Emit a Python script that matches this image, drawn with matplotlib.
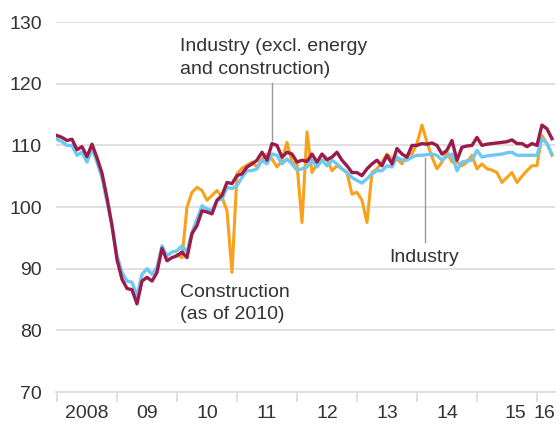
import matplotlib
matplotlib.use("Agg")
import matplotlib.pyplot as plt
import numpy as np

plt.rcParams["font.family"] = ["Liberation Sans", "DejaVu Sans"]

# Monthly values, Jan 2008 .. Apr 2016 (index 2010 = 100)
industry_excl = [
    111.6, 111.3, 110.8, 111.0, 109.3, 109.8, 108.2, 110.2, 108.0, 105.5,
    101.5, 97.0, 91.5, 88.3, 86.8, 86.6, 84.3, 88.0, 88.6, 88.0,
    89.4, 93.3, 91.3, 91.8, 92.1, 92.7, 91.8, 95.7, 97.0, 99.4,
    99.2, 98.9, 101.1, 101.9, 104.0, 103.8, 105.1, 105.4, 106.5, 107.0,
    107.6, 108.9, 107.6, 110.3, 110.0, 108.1, 108.9, 108.6, 107.3, 107.6,
    107.4, 108.6, 107.3, 108.6, 107.7, 108.1, 108.9, 107.6, 106.7, 105.6,
    105.6, 105.1, 106.2, 107.0, 107.6, 106.7, 108.4, 107.0, 109.5, 108.6,
    108.1, 110.0, 110.0, 110.3, 110.2, 110.4, 110.0, 108.6, 109.2, 110.8,
    107.6, 109.7, 109.9, 110.0, 111.3, 110.0, 110.2, 110.3, 110.4, 110.5,
    110.6, 110.9, 110.3, 110.3, 109.8, 110.3, 110.0, 113.3, 112.7, 111.1,
]
industry = [
    111.0, 110.6, 110.0, 110.0, 108.4, 108.9, 107.3, 109.5, 107.3, 104.8,
    100.8, 97.0, 92.1, 89.4, 88.0, 87.8, 85.6, 89.1, 90.0, 89.1,
    90.2, 93.7, 92.1, 92.7, 92.9, 93.7, 92.7, 95.9, 98.0, 100.2,
    99.7, 99.4, 101.1, 101.3, 103.2, 103.0, 103.5, 104.8, 105.9, 105.9,
    106.2, 107.6, 107.0, 108.6, 108.4, 107.0, 107.8, 107.0, 106.0, 106.2,
    106.5, 107.6, 106.5, 107.6, 106.7, 107.6, 107.0, 106.2, 105.6, 104.8,
    104.3, 103.9, 104.6, 105.4, 105.9, 105.9, 106.7, 106.5, 108.1, 107.6,
    107.6, 108.1, 108.4, 108.4, 108.5, 108.6, 108.4, 107.6, 108.2, 108.6,
    105.9, 107.3, 107.5, 107.6, 109.2, 108.1, 108.3, 108.4, 108.5, 108.6,
    108.8, 108.9, 108.4, 108.4, 108.4, 108.4, 108.4, 111.1, 110.3, 108.6,
]
construction = [np.nan] * 24 + [
    92.3, 91.8, 100.0, 102.4, 103.2, 102.7,
    101.1, 101.9, 102.7, 101.6, 99.4, 89.4, 105.4, 106.3, 106.8, 107.3,
    106.5, 107.8, 108.6, 107.8, 106.5, 107.6, 110.5, 107.3, 107.0, 97.5,
    112.2, 105.6, 107.0, 107.6, 107.8, 105.9, 106.7, 106.2, 105.6, 102.1,
    102.4, 101.1, 97.5, 105.6, 106.2, 107.3, 108.6, 107.8, 107.8, 107.0,
    108.4, 108.6, 110.3, 113.3, 110.5, 108.1, 106.2, 107.3, 108.9, 107.3,
    107.3, 106.7, 107.3, 108.4, 106.2, 107.0, 106.2, 106.0, 105.6, 104.0,
    104.8, 105.6, 104.0, 105.0, 105.9, 106.7, 106.7, 111.6, 110.3, 108.4,
]
year_labels = ["2008", "09", "10", "11", "12", "13", "14", "15", "16"]
y_ticks = [70, 80, 90, 100, 110, 120, 130]

months = np.arange(len(industry_excl))

TXT = "#333333"
GRID = "#dddddd"
FS = 14

fig = plt.figure(figsize=(5.6, 4.42), dpi=100)
ax = fig.add_axes([0.10, 0.113, 0.891, 0.837])

ax.plot(months, construction, color="#f9a11b", lw=2.2, zorder=3)
ax.plot(months, industry, color="#6cc8f4", lw=2.4, zorder=4)
ax.plot(months, industry_excl, color="#9b1b4b", lw=2.4, zorder=5)

ax.set_ylim(70, 130)
ax.set_xlim(-0.2, 99.6)
ax.set_yticks(y_ticks)
ax.set_yticklabels([str(v) for v in y_ticks])
ax.grid(axis="y", color=GRID, lw=1.3)
ax.set_axisbelow(True)
for s in ["top", "right", "left"]:
    ax.spines[s].set_visible(False)
ax.spines["bottom"].set_color(GRID)
ax.spines["bottom"].set_linewidth(1.3)

ax.tick_params(axis="y", length=0, pad=10, labelsize=FS, labelcolor=TXT)
year_starts = np.arange(0, 100, 12)
ax.set_xticks(year_starts)
ax.set_xticklabels([""] * len(year_starts))
ax.tick_params(axis="x", which="major", length=7, width=1.3, color=GRID)
label_pos = [6, 18, 30, 42, 54, 66, 78, 91.6, 97.4]
ax.set_xticks(label_pos, minor=True)
ax.set_xticklabels(year_labels, minor=True)
ax.tick_params(axis="x", which="minor", length=0, pad=9, labelsize=FS, labelcolor=TXT)

# annotations
kw = dict(fontsize=FS, color=TXT, va="baseline", ha="left")
ax.text(24.7, 125.3, "Industry (excl. energy", **kw)
ax.text(24.7, 121.6, "and construction)", **kw)
ax.plot([43.0, 43.0], [120.2, 110.8], color="#999999", lw=1, zorder=6)
ax.text(66.4, 91.1, "Industry", **kw)
ax.plot([73.7, 73.7], [108.0, 94.3], color="#999999", lw=1, zorder=6)
ax.text(24.7, 85.4, "Construction", **kw)
ax.text(24.7, 81.9, "(as of 2010)", **kw)

fig.savefig("out.png", dpi=100)
